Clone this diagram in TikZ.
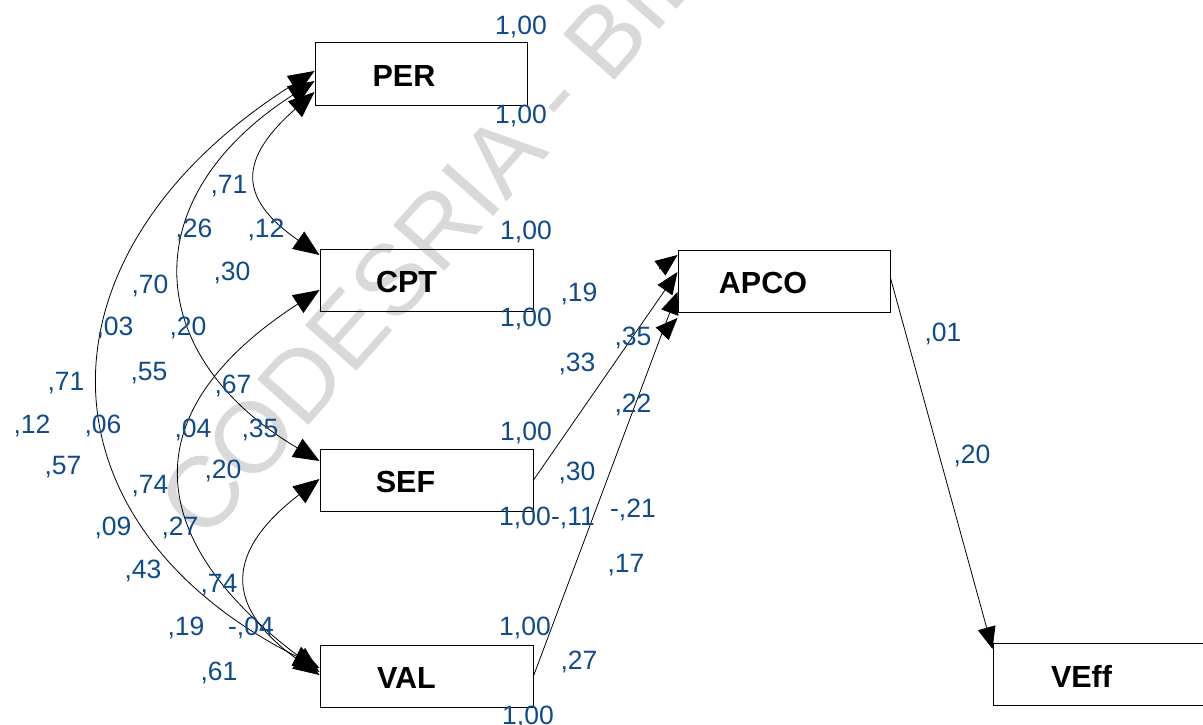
\documentclass[tikz,border=0pt]{standalone}
\usepackage{fontspec}
\setmainfont{Liberation Sans}
\usetikzlibrary{arrows.meta,calc}
\definecolor{numblue}{RGB}{14,74,140}
\definecolor{wmgray}{RGB}{217,217,217}
\begin{document}
\begin{tikzpicture}[x=1pt,y=-1pt,
  box/.style={draw=black, line width=1pt, minimum width=213pt, minimum height=62pt, inner sep=0pt},
  boxlabel/.style={font=\fontsize{30.5}{30.5}\selectfont\bfseries, text=black, inner sep=0pt, yshift=-2pt},
  num/.style={font=\fontsize{26.5}{26.5}\selectfont, text=numblue, anchor=base, inner sep=0pt},
  conn/.style={line width=0.8pt, draw=black},
  cov/.style={conn, {Triangle[length=26pt,width=21pt]}-{Triangle[length=26pt,width=21pt]}},
  regpath/.style={conn, -{Triangle[length=22pt,width=18pt]}},
  watermark/.style={font=\fontsize{100}{100}\selectfont, text=wmgray, rotate=48.5, anchor=base west, inner sep=0pt}
]
\useasboundingbox (0,0) rectangle (1203,725);
\clip (0,0) rectangle (1203,725);

% watermark
\node[watermark] (wm) at (204,544) {CODESRIA - BIBLIOTHEQUE};

% boxes
\node[box, minimum width=212pt, minimum height=63pt, label={[boxlabel, xshift=-17pt]center:PER}] (PER) at (421,74.5) {};
\node[box, label={[boxlabel, xshift=-20pt]center:CPT}] (CPT) at (426.5,280) {};
\node[box, label={[boxlabel, xshift=-21pt]center:SEF}] (SEF) at (426.5,480) {};
\node[box, label={[boxlabel, xshift=-20pt]center:VAL}] (VAL) at (426.5,676) {};
\node[box, minimum width=212pt, label={[boxlabel, xshift=-21pt]center:APCO}] (APCO) at (784,281) {};
\node[box, label={[boxlabel, xshift=-18pt]center:VEff}] (VEff) at (1099.5,674.5) {};

% covariances
\draw[cov] ([yshift=3.5pt]PER.west) .. controls (28,252) and (30,522) .. ([yshift=8pt]VAL.west);
\draw[cov] ([yshift=-6.5pt]PER.west) .. controls (130,200) and (145,358) .. ([yshift=19pt]SEF.west);
\draw[cov] ([yshift=-17.5pt]PER.west) .. controls (240,158) and (236,197) .. ([yshift=25pt]CPT.west);
\draw[cov] ([yshift=-10pt]CPT.west) .. controls (134,410) and (140,537) .. ([yshift=4pt]VAL.west);
\draw[cov] ([yshift=1pt]SEF.west) .. controls (226,551) and (222,606) .. ([yshift=1pt]VAL.west);

% regressions
\coordinate (h1) at (659,269);
\coordinate (h4) at (661,335);
\draw[regpath] (h1) -- ([yshift=26pt]APCO.west);
\draw[regpath] (SEF.east) -- ([yshift=9pt]APCO.west);
\draw[regpath] (VAL.east) -- ([yshift=-11pt]APCO.west);
\draw[regpath] (h4) -- ([yshift=-37pt]APCO.west);
\draw[regpath] ([yshift=3pt]APCO.east) -- ([yshift=-6pt]VEff.north west);

% numbers
\node[num] (n01) at (521,35) {1,00};
\node[num] (n02) at (521,123) {1,00};
\node[num] (n03) at (229,193) {,71};
\node[num] (n04) at (194,237) {,26};
\node[num] (n05) at (266,237) {,12};
\node[num] (n06) at (526,239) {1,00};
\node[num] (n07) at (232,280) {,30};
\node[num] (n08) at (150,293) {,70};
\node[num] (n09) at (526,326) {1,00};
\node[num] (n10) at (579,301) {,19};
\node[num] (n11) at (115,335) {,03};
\node[num] (n12) at (188,335) {,20};
\node[num] (n13) at (66,390) {,71};
\node[num] (n14) at (149,380) {,55};
\node[num] (n15) at (233,393) {,67};
\node[num] (n16) at (577,371) {,33};
\node[num] (n17) at (633,345) {,35};
\node[num] (n18) at (32,433) {,12};
\node[num] (n19) at (103,433) {,06};
\node[num] (n20) at (193,437) {,04};
\node[num] (n21) at (260,437) {,35};
\node[num] (n22) at (526,440) {1,00};
\node[num] (n23) at (633,412) {,22};
\node[num] (n24) at (63,474) {,57};
\node[num] (n25) at (150,493) {,74};
\node[num] (n26) at (223,478) {,20};
\node[num] (n27) at (577,480) {,30};
\node[num] (n28) at (525,525) {1,00};
\node[num] (n29) at (573,525) {-,11};
\node[num] (n30) at (633,517) {-,21};
\node[num] (n31) at (113,535) {,09};
\node[num] (n32) at (180,535) {,27};
\node[num] (n33) at (143,578) {,43};
\node[num] (n34) at (219,592) {,74};
\node[num] (n35) at (626,572) {,17};
\node[num] (n36) at (186,635) {,19};
\node[num] (n37) at (251,635) {-,04};
\node[num] (n38) at (525,635) {1,00};
\node[num] (n39) at (219,680) {,61};
\node[num] (n40) at (579,669) {,27};
\node[num] (n41) at (528,724) {1,00};
\node[num] (n42) at (943,341) {,01};
\node[num] (n43) at (972,463) {,20};
\end{tikzpicture}
\end{document}
